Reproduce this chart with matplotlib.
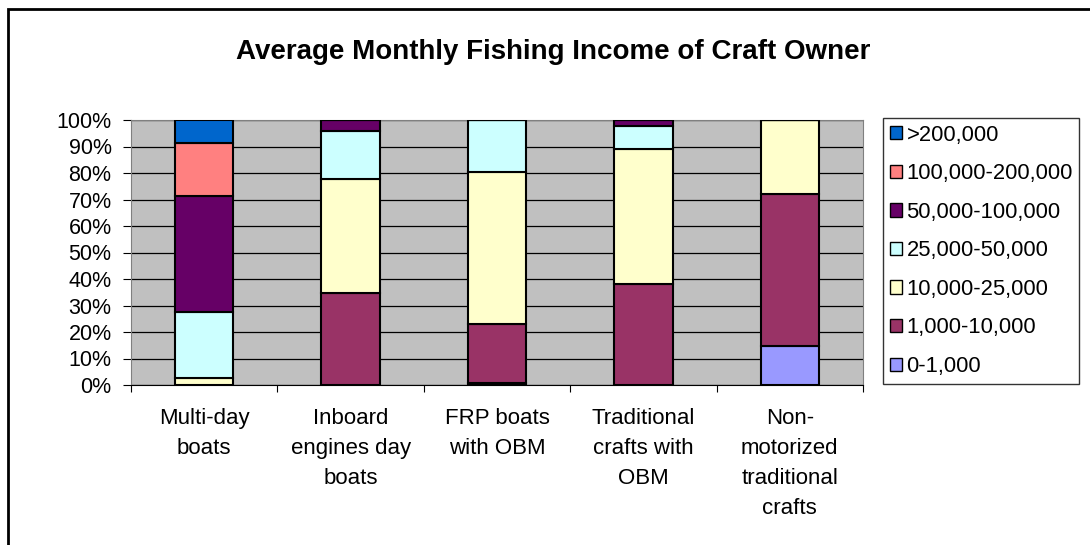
import matplotlib
matplotlib.use('Agg')
import matplotlib.pyplot as plt
import numpy as np
from matplotlib.patches import Rectangle

plt.rcParams['font.family'] = ['Liberation Sans', 'DejaVu Sans']

categories = ['Multi-day\nboats', 'Inboard\nengines day\nboats', 'FRP boats\nwith OBM',
              'Traditional\ncrafts with\nOBM', 'Non-\nmotorized\ntraditional\ncrafts']
series_names = ['0-1,000', '1,000-10,000', '10,000-25,000', '25,000-50,000',
                '50,000-100,000', '100,000-200,000', '>200,000']
colors = ['#9999FF', '#993366', '#FFFFCC', '#CCFFFF', '#660066', '#FF8080', '#0066CC']

# percent shares per category (bottom to top)
s_0_1k = [0.0, 0.0, 0.7, 0.0, 14.8]
s_1k_10k = [0.0, 34.6, 22.3, 38.0, 57.4]
s_10k_25k = [2.8, 43.0, 57.4, 51.0, 27.8]
s_25k_50k = [24.9, 18.4, 19.6, 8.9, 0.0]
s_50k_100k = [43.7, 4.0, 0.0, 2.1, 0.0]
s_100k_200k = [19.8, 0.0, 0.0, 0.0, 0.0]
s_200k = [8.8, 0.0, 0.0, 0.0, 0.0]
series = [s_0_1k, s_1k_10k, s_10k_25k, s_25k_50k, s_50k_100k, s_100k_200k, s_200k]

fig = plt.figure(figsize=(10.9, 5.45), dpi=100)
W, H = 1090, 545
ax = fig.add_axes([131 / W, 1 - 385 / H, (863 - 131) / W, (385 - 120) / H])
ax.set_facecolor('#C0C0C0')

x = np.arange(len(categories))
bottom = np.zeros(len(categories))
handles = []
for name, vals, c in zip(series_names, series, colors):
    vals = np.array(vals)
    b = ax.bar(x, vals, 0.4, bottom=bottom, color=c, edgecolor='black',
               linewidth=1.5, label=name, zorder=3)
    handles.append(b)
    bottom += vals

ax.set_xlim(-0.5, len(categories) - 0.5)
ax.set_ylim(0, 100)
ax.set_yticks(np.arange(0, 101, 10))
ax.set_yticklabels(['%d%%' % v for v in range(0, 101, 10)], fontsize=15.5)
ax.yaxis.grid(True, color='black', linewidth=0.9, zorder=1)
ax.set_axisbelow(True)

ax.set_xticks(np.arange(-0.5, len(categories), 1.0))
ax.set_xticklabels([])
ax.tick_params(axis='x', length=5, direction='out', color='black')
ax.tick_params(axis='y', length=6, direction='out', color='black', pad=8)
for i, lab in enumerate(categories):
    ax.text(i, -8.6, lab, ha='center', va='top', fontsize=16, linespacing=1.57,
            transform=ax.transData)

for side in ['top', 'right']:
    ax.spines[side].set_color('#808080')
ax.spines['left'].set_color('#808080')
ax.spines['bottom'].set_color('black')

fig.text(553 / W, 1 - 52 / H, 'Average Monthly Fishing Income of Craft Owner',
         ha='center', va='center', fontsize=20, fontweight='bold')

leg = fig.legend(handles[::-1], series_names[::-1], loc='upper left',
                 bbox_to_anchor=(883 / W, 1 - 118 / H), fontsize=15.8,
                 frameon=True, fancybox=False, edgecolor='black',
                 handlelength=0.55, handleheight=0.55, handletextpad=0.22,
                 labelspacing=0.8, borderpad=0.3, borderaxespad=0)
leg.get_frame().set_linewidth(1.0)
for p in leg.get_patches():
    p.set_linewidth(1.0)

fig.patches.append(Rectangle((8 / W, -0.1), 1.2, 1 - 9 / H + 0.1, transform=fig.transFigure,
                             fill=False, edgecolor='black', linewidth=2))

fig.savefig('out.png', dpi=100)
